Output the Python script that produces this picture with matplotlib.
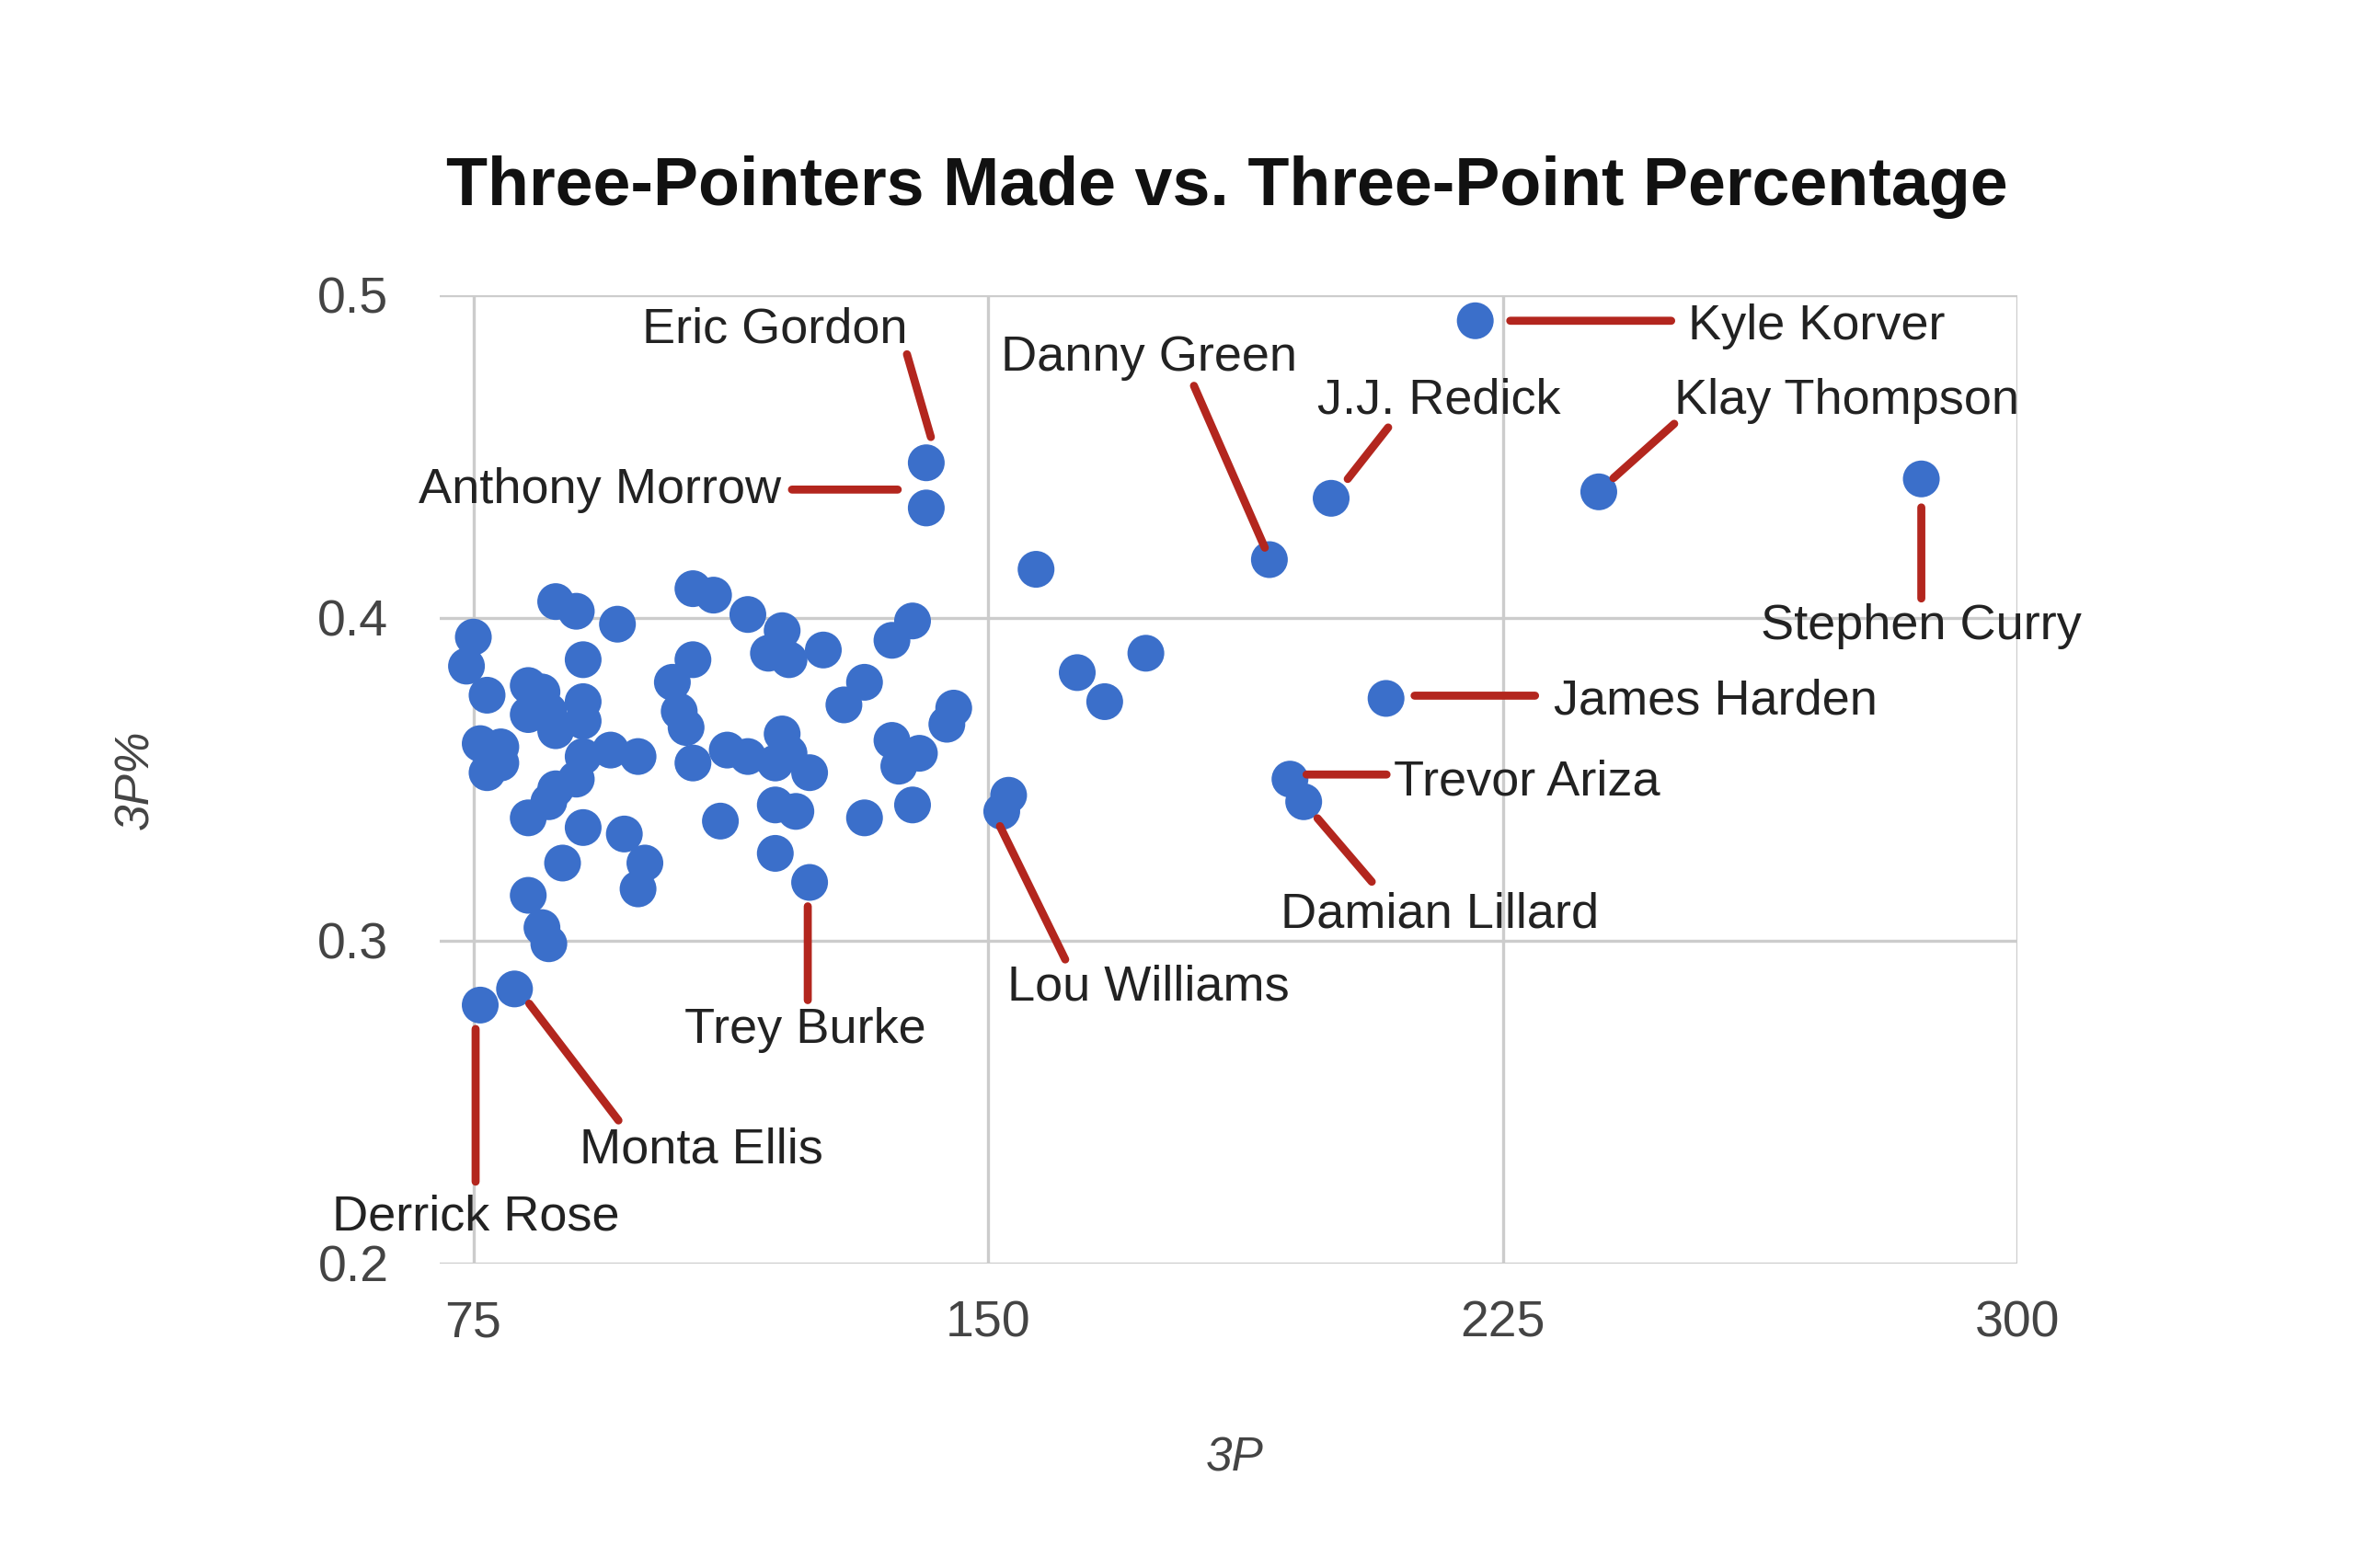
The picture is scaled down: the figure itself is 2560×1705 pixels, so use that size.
import matplotlib
matplotlib.use('Agg')
import matplotlib.pyplot as plt
from matplotlib.transforms import offset_copy

plt.rcParams['font.family'] = ['Liberation Sans', 'DejaVu Sans']

# labelled players (3P made, 3P%)
names = ['Kyle Korver', 'Stephen Curry', 'Klay Thompson', 'J.J. Redick', 'Danny Green',
         'James Harden', 'Trevor Ariza', 'Damian Lillard', 'Lou Williams', 'Eric Gordon',
         'Anthony Morrow', 'Trey Burke', 'Monta Ellis', 'Derrick Rose']
names_3p = [221, 286, 239, 200, 191, 208, 194, 196, 152, 141, 141, 124, 81, 76]
names_pct = [0.492, 0.443, 0.439, 0.437, 0.418, 0.375, 0.350, 0.343, 0.340, 0.448,
             0.434, 0.318, 0.285, 0.280]

# everybody else
other_3p = [75, 74, 77, 87, 90, 96, 91, 83, 85, 83, 87, 91, 91, 86,
            76, 79, 77, 79, 99, 95, 91, 90, 87, 86, 83,
            91, 97, 100, 99, 88, 83, 85, 86,
            107, 110, 115, 118, 107, 104, 105, 106, 107, 112, 115, 111,
            120, 121, 126, 139, 136, 132, 129, 120, 119, 121, 124, 119, 122, 119,
            132, 136, 140, 137, 139, 145, 144,
            157, 173, 163, 167, 153]
other_pct = [0.394, 0.385, 0.376, 0.405, 0.402, 0.398, 0.387, 0.379, 0.377, 0.370, 0.365, 0.374, 0.368, 0.371,
             0.361, 0.360, 0.352, 0.355, 0.357, 0.359, 0.357, 0.350, 0.347, 0.343, 0.338,
             0.335, 0.333, 0.324, 0.316, 0.324, 0.314, 0.304, 0.299,
             0.409, 0.407, 0.401, 0.389, 0.387, 0.380, 0.371, 0.366, 0.355, 0.359, 0.357, 0.337,
             0.396, 0.387, 0.390, 0.399, 0.393, 0.380, 0.373, 0.364, 0.355, 0.358, 0.352, 0.342, 0.340, 0.327,
             0.338, 0.362, 0.358, 0.354, 0.342, 0.372, 0.367,
             0.415, 0.389, 0.383, 0.374, 0.345]

x_ticks = [75, 150, 225, 300]
y_ticks = [0.2, 0.3, 0.4, 0.5]

# label layout in pixels: line start, line end, text position, alignment
layout = {
    'Kyle Korver':    ((38, 0), (213, 0), (231, 0), 'left'),
    'Klay Thompson':  ((16, 15), (82, 74), (82, 105), 'left'),
    'J.J. Redick':    ((18, 21), (62, 77), (117, 112), 'center'),
    'Danny Green':    ((-5, 13), (-82, 189), (-131, 226), 'center'),
    'Eric Gordon':    ((5, 28), (-21, 118), (-20, 151), 'right'),
    'Anthony Morrow': ((-31, 20), (-146, 20), (-158, 25), 'right'),
    'Stephen Curry':  ((0, -31), (0, -130), (0, -154), 'center'),
    'James Harden':   ((31, 3), (162, 3), (182, 3), 'left'),
    'Trevor Ariza':   ((18, 5), (105, 5), (113, 3), 'left'),
    'Damian Lillard': ((15, -18), (74, -87), (148, -117), 'center'),
    'Lou Williams':   ((-2, -16), (69, -161), (159, -185), 'center'),
    'Trey Burke':     ((-2, -26), (-2, -128), (-5, -154), 'center'),
    'Monta Ellis':    ((16, -16), (113, -143), (203, -169), 'center'),
    'Derrick Rose':   ((-5, -26), (-5, -192), (-5, -225), 'center'),
}

blue = '#3b6fca'
red = '#b3261e'
grid_c = '#cccccc'
tick_c = '#444444'

fig = plt.figure(figsize=(25.6, 17.05), dpi=100)
ax = fig.add_axes([478 / 2560, 1 - 1373.7 / 1705, (2193 - 478) / 2560, (1373.7 - 320.7) / 1705])

ax.set_xlim(70.1, 300)
ax.set_ylim(0.2, 0.5)
ax.set_xticks(x_ticks)
ax.set_yticks(y_ticks)
ax.set_xticklabels([str(t) for t in x_ticks])
ax.set_yticklabels([str(t) for t in y_ticks])
for s in ax.spines.values():
    s.set_visible(False)
ax.grid(True, color=grid_c, lw=2.4, zorder=0)
ax.set_axisbelow(True)
ax.tick_params(length=0, labelsize=40, colors=tick_c)
ax.tick_params(axis='y', pad=40)
ax.tick_params(axis='x', pad=29)

ax.scatter(other_3p + names_3p, other_pct + names_pct, s=830, color=blue,
           edgecolors='none', zorder=3)

for name, px, py in zip(names, names_3p, names_pct):
    (ax1, ay1), (ax2, ay2), (tx, ty), ha = layout[name]
    t_start = offset_copy(ax.transData, fig=fig, x=ax1, y=ay1, units='dots')
    t_end = offset_copy(ax.transData, fig=fig, x=ax2, y=ay2, units='dots')
    ax.annotate('', xy=(px, py), xycoords=t_end, xytext=(px, py), textcoords=t_start,
                arrowprops=dict(arrowstyle='-', color=red, lw=6.3, shrinkA=0, shrinkB=0),
                zorder=4, annotation_clip=False)
    ax.annotate(name, xy=(px, py), xytext=(tx, ty - 20), textcoords='offset pixels',
                ha=ha, va='baseline', fontsize=39, color='#222222', zorder=5,
                annotation_clip=False)

fig.text(1334 / 2560, 1 - 203 / 1705, 'Three-Pointers Made vs. Three-Point Percentage',
         ha='center', va='center', fontsize=53, fontweight='bold', color='#111111')
fig.text(1342 / 2560, 1 - 1586 / 1705, '3P', ha='center', va='center', fontsize=37,
         style='italic', color=tick_c)
fig.text(148 / 2560, 1 - 848 / 1705, '3P%', ha='center', va='center', fontsize=37,
         style='italic', color=tick_c, rotation=90)

fig.savefig('out.png', dpi=100, facecolor='white')
